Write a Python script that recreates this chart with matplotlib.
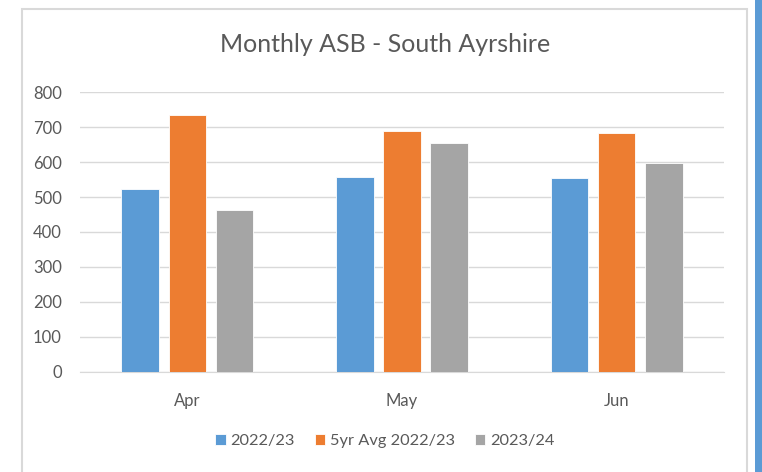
import numpy as np
import matplotlib.pyplot as plt
from matplotlib.patches import Rectangle

months = ['Apr', 'May', 'Jun']
labels = ['2022/23', '5yr Avg 2022/23', '2023/24']
asb_2022 = [523, 557, 554]
avg_5yr = [733, 689, 684]
asb_2023 = [464, 655, 598]
colours = ['#5b9bd5', '#ed7d31', '#a5a5a5']

plt.rcParams['font.family'] = ['Lato', 'DejaVu Sans']
txt = '#595959'

fig = plt.figure(figsize=(7.62, 4.72), dpi=100)
ax = fig.add_axes([0.105, 0.212, 0.845, 0.593])

x = np.arange(len(months))
w = 0.175
series = [asb_2022, avg_5yr, asb_2023]
for i, vals in enumerate(series):
    ax.bar(x + (i - 1) * 0.22, vals, w, color=colours[i], label=labels[i],
           edgecolor='white', linewidth=0.6, zorder=3)

ax.set_xlim(-0.5, 2.5)
ax.set_ylim(0, 800)
ax.set_yticks(range(0, 801, 100))
ax.set_xticks(x)
ax.set_xticklabels(months)
ax.grid(axis='y', color='#d9d9d9', linewidth=1, zorder=0)
for s in ['top', 'right', 'left']:
    ax.spines[s].set_visible(False)
ax.spines['bottom'].set_color('#d9d9d9')
ax.tick_params(axis='both', length=0, colors=txt, labelsize=12)
ax.tick_params(axis='x', pad=15)
ax.tick_params(axis='y', pad=13)

fig.text(0.505, 1 - 45 / 472, 'Monthly ASB - South Ayrshire', ha='center', va='center',
         fontsize=18, color=txt)

h, l = ax.get_legend_handles_labels()
fig.legend(h, l, loc='center', bbox_to_anchor=(0.505, 1 - 441 / 472), ncol=3, frameon=False,
           fontsize=11.8, labelcolor=txt, handlelength=0.65, handleheight=0.65,
           handletextpad=0.3, columnspacing=1.2)

# chart frame and blue edge strip
fig.patches.append(Rectangle((22 / 762, -0.05), 725 / 762, 1.05 - 9 / 472, transform=fig.transFigure,
                             fill=False, edgecolor='#d9d9d9', linewidth=1.5))
fig.patches.append(Rectangle((755 / 762, 0), 7 / 762, 1, transform=fig.transFigure,
                             color='#5b9bd5', linewidth=0))

plt.savefig('out.png', dpi=100)
